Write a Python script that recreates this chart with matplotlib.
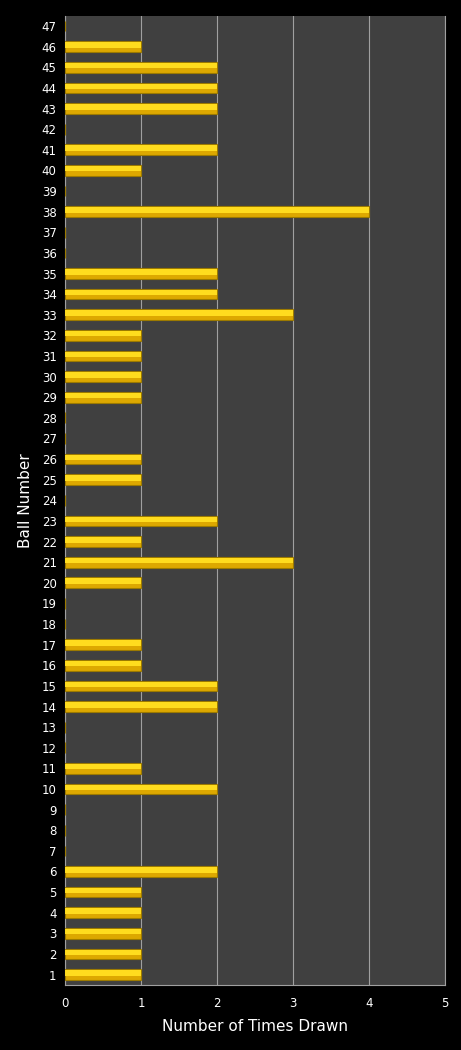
import numpy as np
import matplotlib.pyplot as plt

balls = list(range(1, 48))
counts = [1, 1, 1, 1, 1, 2, 0, 0, 0, 2,
          1, 0, 0, 2, 2, 1, 1, 0, 0, 1,
          3, 1, 2, 0, 1, 1, 0, 0, 1, 1,
          1, 1, 3, 2, 2, 0, 0, 4, 0, 1,
          2, 0, 2, 2, 2, 1, 0]

fig = plt.figure(figsize=(4.61, 10.5), dpi=100, facecolor='black')
ax = fig.add_axes([0.141, 0.062, 0.824, 0.923])
ax.set_facecolor('#404040')

# base bar plus a lighter strip on top to fake the gradient look
ax.barh(balls, counts, height=0.52, color='#DDA800', edgecolor='#9C7A00', linewidth=0.8, zorder=3)
ax.barh(np.array(balls) + 0.08, counts, height=0.26, color='#FFDC1E', linewidth=0, zorder=4)

ax.set_xlim(0, 5)
ax.set_ylim(0.5, 47.5)
ax.set_yticks(balls)
ax.set_yticklabels([str(b) for b in balls])
ax.set_xticks(range(6))
ax.grid(axis='x', color='#A0A0A0', linewidth=0.8, zorder=1)
ax.tick_params(colors='white', labelsize=8.5, length=0, pad=6)
ax.tick_params(axis='x', pad=9)
ax.spines['top'].set_visible(False)
for side in ['left', 'bottom', 'right']:
    ax.spines[side].set_color('#A0A0A0')

ax.set_xlabel('Number of Times Drawn', color='white', fontsize=11, labelpad=6)
ax.set_ylabel('Ball Number', color='white', fontsize=11, labelpad=6)

fig.savefig('out.png', facecolor='black')
